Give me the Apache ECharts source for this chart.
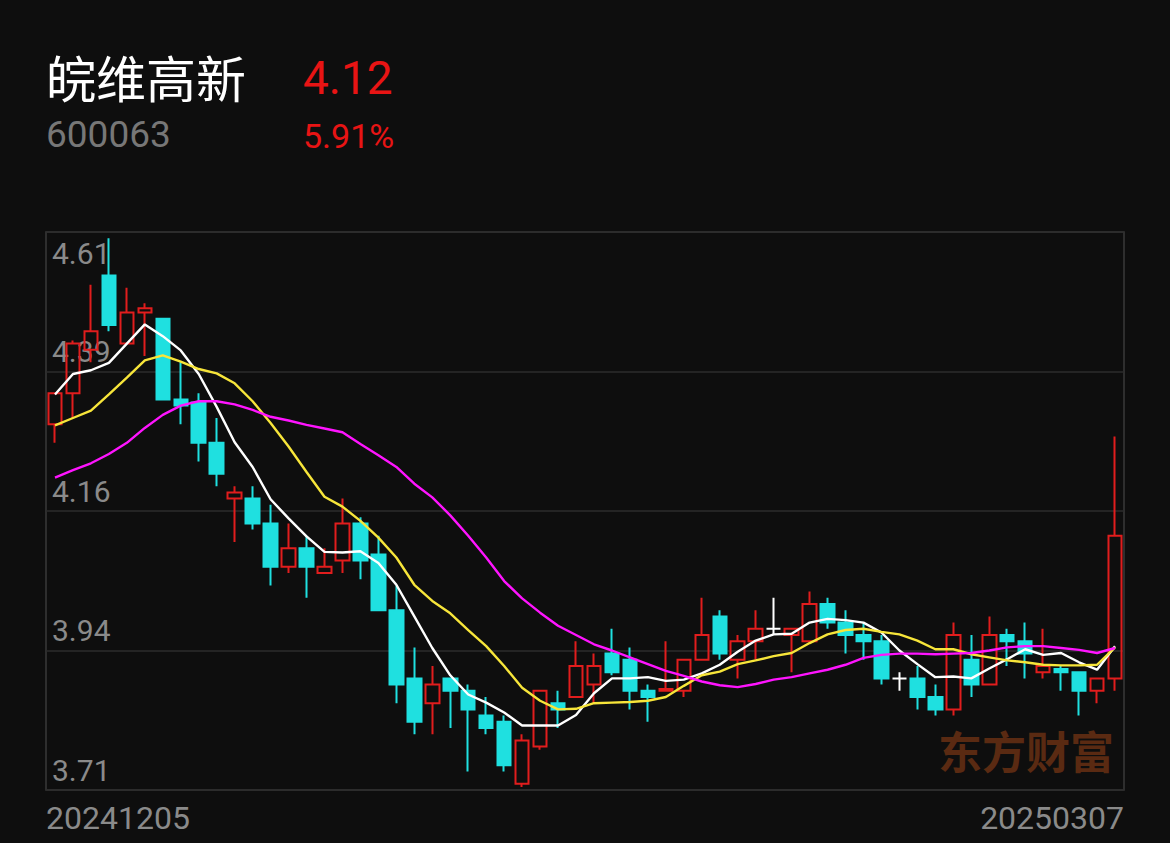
<!DOCTYPE html>
<html>
<head>
<meta charset="utf-8">
<script src="https://cdn.jsdelivr.net/npm/echarts@6/dist/echarts.min.js"></script>
<style>
html,body{margin:0;padding:0;background:#0e0e0e;}
#chart{width:1170px;height:843px;}
</style>
</head>
<body>
<div id="chart"></div>
<script>
const stockName = '皖维高新';
const stockCode = '600063';
const lastPrice = '4.12';
const changePct = '5.91%';
const watermark = '东方财富';

const dates = [
  '20241205','20241206','20241209','20241210','20241211','20241212','20241213','20241216','20241217','20241218',
  '20241219','20241220','20241223','20241224','20241225','20241226','20241227','20241230','20241231','20250102',
  '20250103','20250106','20250107','20250108','20250109','20250110','20250113','20250114','20250115','20250116',
  '20250117','20250120','20250121','20250122','20250123','20250124','20250127','20250205','20250206','20250207',
  '20250210','20250211','20250212','20250213','20250214','20250217','20250218','20250219','20250220','20250221',
  '20250224','20250225','20250226','20250227','20250228','20250303','20250304','20250305','20250306','20250307'
];

const opens = [
  4.30,4.35,4.42,4.54,4.43,4.48,4.47,4.34,4.335,4.27,
  4.18,4.18,4.14,4.07,4.10,4.06,4.08,4.14,4.09,4.00,
  3.89,3.85,3.89,3.87,3.83,3.82,3.72,3.78,3.85,3.86,
  3.88,3.93,3.92,3.87,3.87,3.87,3.92,3.99,3.92,3.95,
  3.97,3.96,3.95,4.01,3.98,3.96,3.95,3.89,3.89,3.86,
  3.84,3.92,3.88,3.96,3.95,3.90,3.905,3.90,3.87,3.89
];
const closes = [
  4.35,4.43,4.45,4.46,4.48,4.487,4.34,4.33,4.27,4.22,
  4.19,4.14,4.07,4.10,4.07,4.07,4.14,4.08,4.00,3.88,
  3.82,3.88,3.87,3.84,3.81,3.75,3.79,3.87,3.84,3.91,
  3.91,3.90,3.87,3.86,3.873,3.92,3.96,3.93,3.95,3.97,
  3.97,3.97,4.01,3.98,3.96,3.95,3.89,3.89,3.86,3.84,
  3.96,3.88,3.96,3.95,3.93,3.91,3.90,3.87,3.89,4.12
];
const lows = [
  4.27,4.31,4.40,4.45,4.43,4.41,4.34,4.30,4.24,4.20,
  4.11,4.13,4.04,4.06,4.02,4.06,4.06,4.05,4.00,3.85,
  3.80,3.80,3.81,3.74,3.80,3.74,3.715,3.775,3.81,3.86,
  3.85,3.895,3.84,3.82,3.87,3.86,3.92,3.92,3.89,3.92,
  3.96,3.90,3.95,3.97,3.93,3.92,3.88,3.87,3.84,3.83,
  3.83,3.86,3.88,3.91,3.89,3.89,3.87,3.83,3.85,3.87
];
const highs = [
  4.35,4.435,4.525,4.60,4.52,4.495,4.47,4.40,4.35,4.31,
  4.20,4.20,4.17,4.14,4.12,4.10,4.18,4.15,4.12,4.04,
  3.94,3.91,3.89,3.88,3.86,3.83,3.80,3.87,3.87,3.95,
  3.93,3.97,3.94,3.88,3.95,3.92,4.02,4.00,3.96,4.00,
  4.02,3.97,4.03,4.02,4.00,3.98,3.96,3.90,3.91,3.88,
  3.98,3.96,3.99,3.97,3.98,3.97,3.91,3.90,3.89,4.28
];

const ma5 = [
  4.348,4.381,4.387,4.399,4.430,4.461,4.442,4.419,4.381,4.328,
  4.271,4.231,4.179,4.148,4.119,4.094,4.093,4.095,4.076,4.041,
  3.990,3.939,3.895,3.864,3.851,3.835,3.814,3.814,3.814,3.831,
  3.866,3.890,3.890,3.892,3.886,3.888,3.898,3.912,3.933,3.951,
  3.961,3.962,3.980,3.986,3.984,3.980,3.964,3.935,3.913,3.892,
  3.893,3.890,3.906,3.921,3.937,3.928,3.931,3.916,3.904,3.942
];
const ma10 = [
  4.298,4.310,4.322,4.348,4.375,4.403,4.411,4.401,4.389,4.382,
  4.366,4.337,4.302,4.264,4.223,4.183,4.167,4.144,4.117,4.085,
  4.041,4.015,3.995,3.968,3.942,3.910,3.875,3.854,3.840,3.841,
  3.850,3.851,3.852,3.854,3.860,3.878,3.895,3.901,3.913,3.919,
  3.926,3.931,3.947,3.961,3.968,3.970,3.965,3.961,3.951,3.937,
  3.937,3.929,3.924,3.919,3.916,3.912,3.911,3.911,3.912,3.940
];
const ma20 = [
  4.214,4.226,4.237,4.252,4.270,4.294,4.315,4.330,4.337,4.337,
  4.332,4.323,4.312,4.306,4.299,4.293,4.287,4.268,4.250,4.231,
  4.204,4.182,4.153,4.120,4.085,4.047,4.019,3.996,3.975,3.960,
  3.945,3.935,3.924,3.913,3.902,3.894,3.885,3.879,3.876,3.881,
  3.888,3.892,3.898,3.904,3.912,3.923,3.928,3.930,3.930,3.929,
  3.930,3.931,3.935,3.940,3.942,3.942,3.939,3.936,3.931,3.939
];

const yLabels = ['3.71','3.94','4.16','4.39','4.61'];
const priceMin = 3.71;
const priceMax = 4.61;

const candleData = opens.map((o, i) => [o, closes[i], lows[i], highs[i]]);

const RED = '#e11d1d';
const CYAN = '#1fe0e0';
const GREY = '#8a8a8a';
const NUMFONT = 'Roboto, "Noto Sans CJK SC", sans-serif';

const chart = echarts.init(document.getElementById('chart'), null, {renderer: 'svg'});
const lastIdx = dates.length - 1;

const labelXAxis = (which) => ({
  type: 'category',
  data: dates,
  boundaryGap: false,
  position: 'bottom',
  offset: 0,
  axisLine: {show: false},
  axisTick: {show: false},
  splitLine: {show: false},
  axisLabel: {
    show: true,
    interval: (idx) => which === 'first' ? idx === 0 : idx === lastIdx,
    align: which === 'first' ? 'left' : 'right',
    color: GREY,
    fontSize: 32,
    fontFamily: NUMFONT,
    margin: 12
  }
});

const option = {
  backgroundColor: '#0e0e0e',
  animation: false,
  grid: {
    left: 46, right: 46, top: 232, bottom: 53,
    show: true, borderColor: '#3a3a3a', borderWidth: 1.5,
    backgroundColor: 'transparent'
  },
  xAxis: [
    {
      type: 'category', data: dates, boundaryGap: true,
      axisLine: {show: false}, axisTick: {show: false},
      axisLabel: {show: false}, splitLine: {show: false}
    },
    labelXAxis('first'),
    labelXAxis('last')
  ],
  yAxis: [
    {
      type: 'value', min: priceMin, max: priceMax, show: false,
      splitLine: {show: false}
    },
    {
      type: 'value', min: 0, max: 4, interval: 1, position: 'left',
      axisLine: {show: false}, axisTick: {show: false},
      splitLine: {show: true, lineStyle: {color: '#2c2c2c', width: 1.5}},
      axisLabel: {
        inside: true, margin: 6, verticalAlign: 'bottom',
        padding: [0, 0, 5, 0],
        color: GREY, fontSize: 30, fontFamily: NUMFONT,
        formatter: (v) => v < 4 ? yLabels[v] : ''
      }
    },
    {
      type: 'value', min: 0, max: 4, interval: 1, position: 'left',
      axisLine: {show: false}, axisTick: {show: false},
      splitLine: {show: false},
      axisLabel: {
        inside: true, margin: 6, verticalAlign: 'top',
        padding: [7, 0, 0, 0],
        color: GREY, fontSize: 30, fontFamily: NUMFONT,
        formatter: (v) => v === 4 ? yLabels[4] : ''
      }
    }
  ],
  series: [
    {
      type: 'candlestick',
      xAxisIndex: 0, yAxisIndex: 0,
      data: candleData,
      barWidth: 14,
      itemStyle: {
        color: 'transparent',
        color0: CYAN,
        borderColor: RED,
        borderColor0: CYAN,
        borderColorDoji: '#ffffff',
        borderWidth: 2
      },
      emphasis: {disabled: true}
    },
    {
      type: 'line', name: 'MA5', xAxisIndex: 0, yAxisIndex: 0,
      data: ma5, showSymbol: false, symbol: 'none',
      lineStyle: {color: '#ffffff', width: 2.4}
    },
    {
      type: 'line', name: 'MA10', xAxisIndex: 0, yAxisIndex: 0,
      data: ma10, showSymbol: false, symbol: 'none',
      lineStyle: {color: '#f7e53a', width: 2.4}
    },
    {
      type: 'line', name: 'MA20', xAxisIndex: 0, yAxisIndex: 0,
      data: ma20, showSymbol: false, symbol: 'none',
      lineStyle: {color: '#ff14ff', width: 2.4}
    }
  ],
  graphic: [
    {type: 'text', left: 46, top: 51, style: {text: stockName, fill: '#ffffff', font: '50px "Noto Sans CJK SC", sans-serif'}},
    {type: 'text', left: 303, top: 55, style: {text: lastPrice, fill: '#e81414', font: '46px ' + NUMFONT}},
    {type: 'text', left: 46, top: 116, style: {text: stockCode, fill: '#777777', font: '37px ' + NUMFONT}},
    {type: 'text', left: 303, top: 119, style: {text: changePct, fill: '#e81414', font: '34px ' + NUMFONT}},
    {type: 'text', left: 938, top: 728, z: -1, style: {text: watermark, fill: '#5a2a12', font: 'bold 44px "Noto Sans CJK SC", sans-serif'}}
  ]
};

chart.setOption(option);
</script>
</body>
</html>
